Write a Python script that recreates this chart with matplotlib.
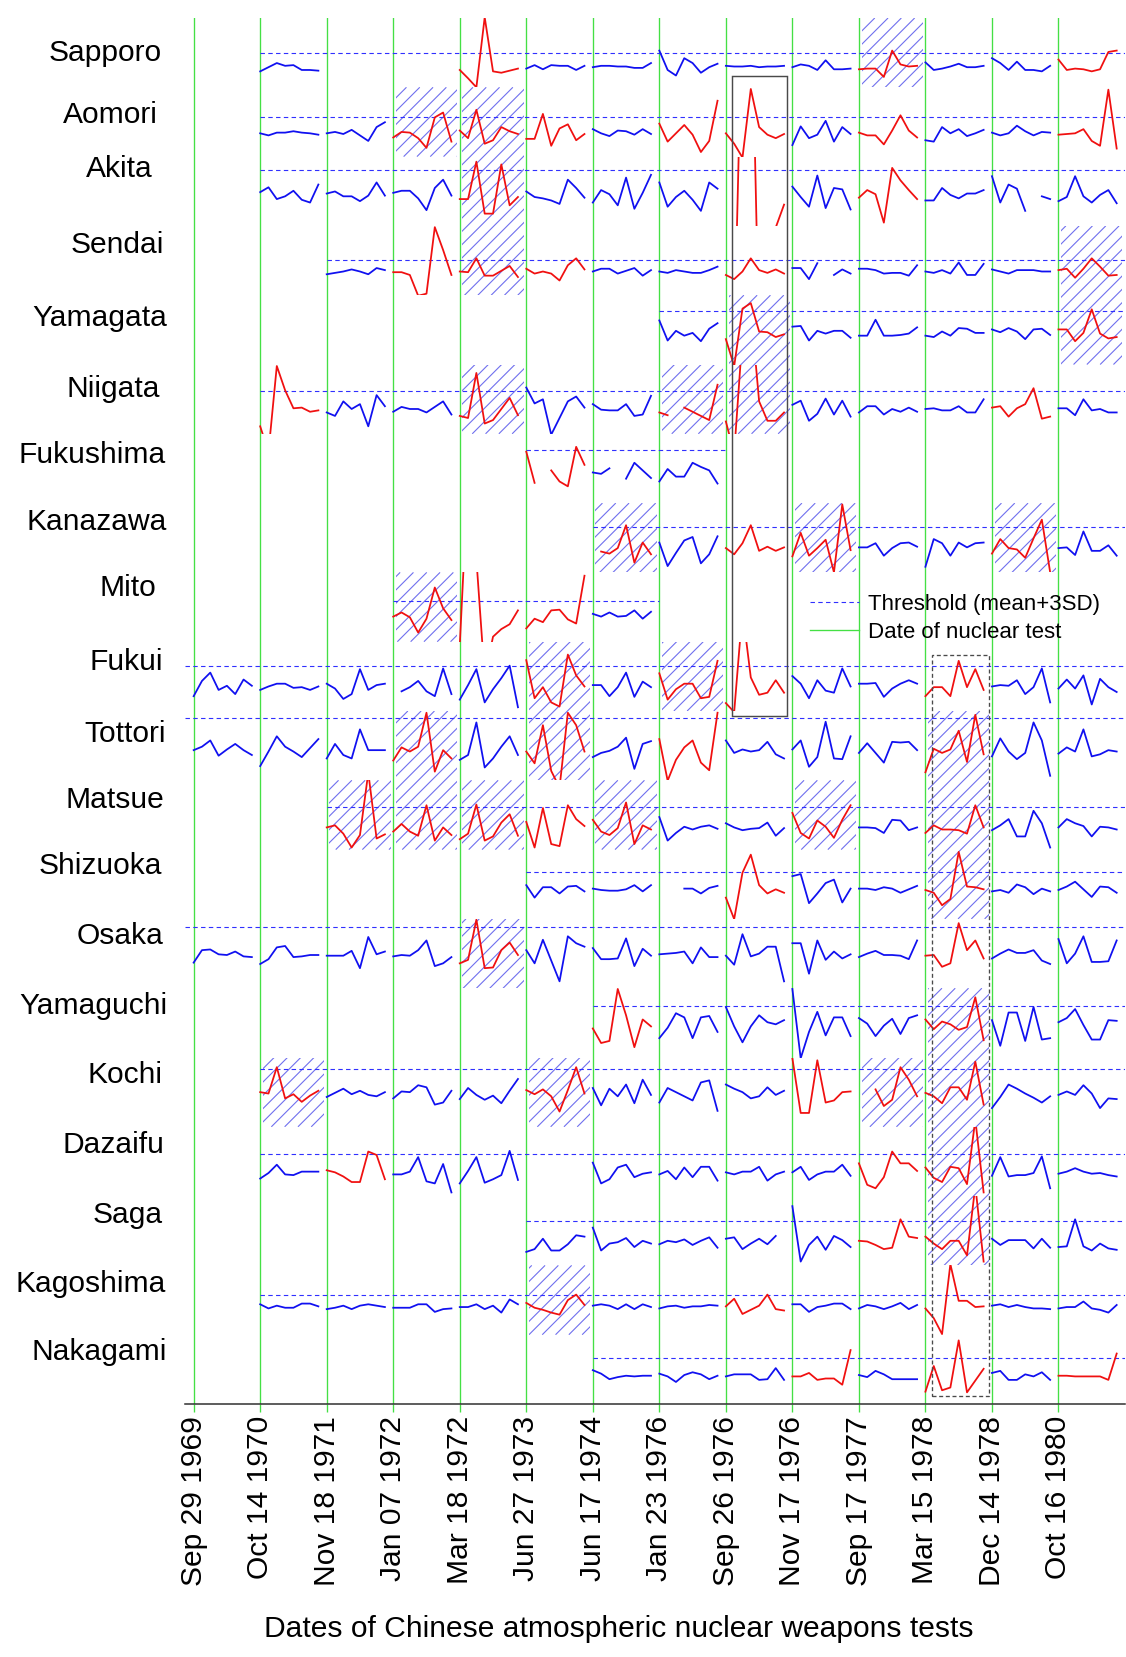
import numpy as np
import matplotlib
matplotlib.use("Agg")
import matplotlib.pyplot as plt
from matplotlib.patches import Rectangle
from matplotlib.lines import Line2D
from matplotlib.collections import LineCollection

plt.rcParams['font.family'] = ['Liberation Sans', 'DejaVu Sans']

N = np.nan

test_dates = ["Sep 29 1969", "Oct 14 1970", "Nov 18 1971", "Jan 07 1972", "Mar 18 1972",
              "Jun 27 1973", "Jun 17 1974", "Jan 23 1976", "Sep 26 1976", "Nov 17 1976",
              "Sep 17 1977", "Mar 15 1978", "Dec 14 1978", "Oct 16 1980"]

stations = ["Sapporo", "Aomori", "Akita", "Sendai", "Yamagata", "Niigata", "Fukushima",
            "Kanazawa", "Mito", "Fukui", "Tottori", "Matsue", "Shizuoka", "Osaka",
            "Yamaguchi", "Kochi", "Dazaifu", "Saga", "Kagoshima", "Nakagami"]

# threshold level inside each station's band (band height = 10)
thresholds = [5.0, 5.76, 8.07, 5.12, 7.76, 6.18, 7.62, 6.51, 5.92, 6.54,
              8.95, 6.10, 6.77, 8.79, 7.39, 8.30, 6.03, 6.45, 5.69, 6.68]

# values after each test, relative to the threshold (column -> 8 samples)
sapporo = {
    1: [-2.7, -2.1, -1.5, -1.9, -1.8, -2.5, -2.5, -2.6],
    4: [-2.5, -3.7, -5.0, 5.1, -2.7, -2.9, -2.6, -2.3],
    5: [-2.3, -1.8, -2.4, -1.8, -1.9, -1.9, -2.5, -1.9],
    6: [-2.1, -1.9, -1.9, -2.0, -2.0, -2.2, -2.2, -1.5],
    7: [0.3, -2.5, -3.3, -0.8, -1.5, -2.9, -2.1, -1.6],
    8: [-1.9, -2.0, -2.0, -1.9, -2.1, -2.0, -2.0, -1.9],
    9: [-2.1, -1.7, -1.9, -2.5, -1.1, -2.4, -2.4, -2.3],
    10: [-2.4, -2.3, -2.3, -3.5, 0.3, -1.7, -2.0, -1.9],
    11: [-1.4, -2.5, -2.3, -2.0, -1.6, -2.1, -2.1, -1.9],
    12: [-0.8, -1.5, -2.5, -1.3, -2.5, -2.5, -2.7, -1.9],
    13: [-1.0, -2.5, -2.3, -2.4, -2.7, -2.4, 0.1, 0.3],
}
aomori = {
    1: [-2.4, -2.7, -2.3, -2.3, -2.1, -2.3, -2.4, -2.6],
    2: [-2.4, -2.2, -2.5, -1.9, -2.7, -3.5, -1.5, -0.8],
    3: [-3.0, -2.2, -2.3, -3.1, -4.5, -0.1, 0.6, -3.6],
    4: [-2.0, -3.1, 1.0, -3.9, -3.4, -1.5, -2.1, -2.5],
    5: [-3.2, -3.2, 0.4, -4.2, -1.7, -1.1, -3.4, -2.5],
    6: [-1.8, -2.4, -2.8, -2.0, -2.1, -2.6, -1.8, -2.5],
    7: [-1.0, -3.6, -2.4, -1.2, -2.6, -5.1, -3.5, 2.3],
    8: [-2.4, -3.9, -5.9, 4.0, -1.5, -2.6, -3.1, -2.5],
    9: [-4.1, -1.4, -3.1, -2.6, -0.6, -3.6, -1.5, -2.5],
    10: [-2.3, -2.7, -2.7, -4.0, -2.0, 0.2, -2.0, -3.0],
    11: [-3.4, -3.6, -1.5, -2.4, -1.8, -2.8, -2.4, -1.9],
    12: [-2.3, -2.7, -2.4, -1.3, -2.1, -2.7, -2.2, -2.3],
    13: [-2.6, -2.5, -2.4, -1.8, -3.5, -4.2, 3.9, -4.6],
}
akita = {
    1: [-3.2, -2.5, -4.2, -3.8, -3.0, -4.3, -4.7, -2.1],
    2: [-3.4, -3.1, -3.8, -3.8, -4.5, -3.7, -1.8, -3.7],
    3: [-3.3, -3.0, -3.0, -4.1, -5.8, -2.6, -1.4, -3.7],
    4: [-4.2, -4.2, 1.2, -6.3, -6.3, 0.8, -5.1, -3.9],
    5: [-3.1, -3.9, -4.1, -4.4, -4.9, -1.4, -2.6, -4.0],
    6: [-4.7, -2.9, -3.5, -5.1, -1.1, -5.6, -3.3, -0.7],
    7: [-1.8, -5.3, -3.9, -3.0, -4.3, -5.9, -1.8, -2.7],
    8: [-12.0, -25.0, 25.0, 30.0, -25.0, -20.0, -8.3, -5.0],
    9: [-2.4, -3.9, -5.3, -0.8, -5.5, -2.6, -2.8, -5.7],
    10: [-4.0, -2.9, -3.5, -7.6, 0.3, -1.5, -2.9, -4.2],
    11: [-4.4, -4.4, -2.6, -3.6, -4.1, -3.4, -3.4, -2.9],
    12: [-0.9, -4.7, -2.1, -2.7, -5.9, N, -3.8, -4.2],
    13: [-4.5, -3.9, -0.9, -3.8, -4.7, -3.6, -2.9, -4.8],
}
sendai = {
    2: [-2.1, -1.9, -1.7, -1.4, -1.7, -2.1, -1.2, -1.5],
    3: [-1.8, -1.8, -2.2, -5.2, -4.9, 4.7, 1.4, -2.2],
    4: [-1.7, -1.8, 0.2, -2.3, -2.3, -1.6, -0.9, -2.5],
    5: [-1.3, -2.0, -1.7, -2.0, -3.0, -0.8, 0.2, -1.4],
    6: [-1.7, -1.3, -1.3, -2.0, -1.6, -1.2, -2.3, -1.5],
    7: [-1.7, -1.9, -1.5, -1.7, -1.9, -1.9, -1.5, -1.0],
    8: [-2.2, -2.8, -1.7, 0.2, -1.5, -1.9, -1.4, -2.0],
    9: [-1.2, -1.2, -2.8, -0.5, N, -2.2, -1.4, -2.0],
    10: [-1.3, -1.3, -1.5, -2.0, -1.9, -1.9, -2.3, -0.8],
    11: [-1.7, -1.9, -1.5, -2.0, -0.4, -2.2, -2.2, -0.6],
    12: [-1.4, -1.7, -2.0, -1.5, -1.5, -1.5, -1.7, -1.7],
    13: [-1.5, -1.3, -2.6, -1.3, 0.2, -1.0, -2.3, -2.2],
}
yamagata = {
    7: [-1.4, -4.3, -2.9, -3.6, -3.2, -4.4, -2.6, -1.8],
    8: [-4.1, -8.0, 0.3, 1.1, -3.0, -3.1, -3.8, -3.4],
    9: [-2.3, -2.2, -4.3, -2.9, -3.3, -2.9, -2.9, -3.9],
    10: [-3.6, -3.6, -1.3, -3.6, -3.6, -3.5, -3.3, -2.4],
    11: [-3.6, -3.8, -3.0, -3.6, -2.5, -2.6, -3.2, -3.2],
    12: [-2.7, -3.1, -2.5, -3.0, -4.1, -2.7, -2.6, -3.5],
    13: [-2.7, -2.7, -4.4, -3.2, 0.2, -3.3, -4.0, -3.8],
}
niigata = {
    1: [-5.1, -8.8, 3.6, 0.1, -2.5, -2.4, -3.0, -2.8],
    2: [-3.1, -3.6, -1.5, -2.6, -1.9, -5.1, -0.6, -2.2],
    3: [-3.0, -2.3, -2.6, -2.6, -3.1, -2.3, -1.5, -3.4],
    4: [-3.6, -3.9, 2.6, -4.7, -4.2, -2.6, -1.0, -3.5],
    5: [0.5, -1.8, -1.2, -6.3, -3.9, -1.5, -0.8, -2.4],
    6: [-1.9, -2.7, -2.8, -2.8, -1.9, -3.6, -3.4, -0.7],
    7: [-3.1, -3.5, N, -2.4, -3.0, -3.6, -4.2, 0.9],
    8: [-4.4, -9.0, 8.0, 12.0, -1.5, -4.3, -4.3, -3.1],
    9: [-2.0, -1.4, -4.3, -3.3, -1.1, -3.4, -1.4, -3.7],
    10: [-3.1, -2.2, -2.2, -3.4, -2.6, -3.0, -2.4, -3.0],
    11: [-2.6, -2.5, -2.8, -2.8, -2.2, -3.1, -3.1, -1.2],
    12: [-2.4, -2.2, -3.7, -2.5, -1.9, 0.4, -4.0, -3.7],
    13: [-2.5, -2.5, -3.5, -1.2, -2.8, -2.6, -3.1, -3.1],
}
fukushima = {
    5: [-0.2, -4.7, N, -2.9, -4.5, -5.2, 0.5, -2.1],
    6: [-3.2, -3.4, -2.6, N, -4.1, -1.8, -2.9, -4.0],
    7: [-4.5, -2.7, -3.8, -3.8, -1.8, -2.4, -2.9, -4.8],
}
kanazawa = {
    6: [N, -3.5, -3.8, -3.0, 0.3, -5.1, -2.2, -3.9],
    7: [-2.2, -5.6, -3.7, -1.9, -1.4, -5.2, -3.9, -1.3],
    8: [-3.0, -3.9, -2.3, 0.3, -3.4, -2.8, -3.4, -2.9],
    9: [-4.2, -0.8, -4.1, -3.0, -1.8, -6.5, 3.3, -3.3],
    10: [-2.9, -2.9, -2.3, -4.1, -3.0, -2.3, -2.2, -2.8],
    11: [-5.7, -1.7, -2.3, -4.1, -2.2, -2.9, -2.3, -2.2],
    12: [-3.8, -1.7, -3.0, -3.2, -4.4, -1.6, 1.1, -6.5],
    13: [-3.0, -2.9, -4.0, -0.6, -3.4, -3.4, -2.6, -4.1],
}
mito = {
    3: [-2.3, -1.7, -2.4, -4.6, -2.6, 1.9, -1.1, -2.8],
    4: [-6.5, 18.0, 6.0, -11.0, -5.2, -4.1, -3.4, -1.4],
    5: [-4.0, -2.6, -3.1, -1.4, -1.3, -2.7, -3.3, 3.6],
    6: [-1.9, -2.3, -1.7, -2.3, -2.2, -1.4, -2.6, -1.6],
}
fukui = {
    0: [-4.4, -2.2, -1.0, -3.5, -2.9, -4.1, -2.0, -2.9],
    1: [-3.5, -3.0, -2.6, -2.6, -3.2, -3.1, -3.5, -3.0],
    2: [-2.6, -3.3, -4.8, -4.1, -0.5, -3.5, -2.8, -2.6],
    3: [N, -3.7, -3.1, -2.2, -3.7, -4.4, -0.4, -4.1],
    4: [-4.9, -2.8, -0.5, -5.3, -3.4, -1.8, 0.0, -6.0],
    5: [0.8, -4.7, -3.1, -5.3, -5.9, 1.6, -1.4, -3.0],
    6: [-2.8, -2.8, -4.4, -3.1, -1.0, -4.5, -2.3, -3.1],
    7: [-1.1, -4.9, -3.4, -2.6, -2.6, -4.7, -4.5, 0.7],
    8: [-5.4, -6.7, 8.0, -1.7, -4.2, -3.9, -2.1, -3.9],
    9: [-1.5, -2.6, -4.7, -2.1, -3.6, -3.9, -0.4, -3.0],
    10: [-2.6, -2.6, -2.5, -4.5, -3.3, -2.6, -2.1, -2.6],
    11: [-4.4, -3.1, -3.1, -4.4, 0.7, -3.1, -0.5, -3.5],
    12: [-3.0, -2.8, -2.9, -2.1, -4.1, -3.1, -0.4, -5.3],
    13: [-3.3, -2.0, -3.3, -1.4, -5.6, -1.9, -3.1, -3.8],
}
tottori = {
    0: [-4.6, -4.1, -3.2, -5.4, -4.5, -3.7, -4.6, -5.3],
    1: [-6.9, -4.8, -2.6, -4.1, -4.8, -5.6, -4.3, -3.0],
    2: [-5.8, -3.7, -5.3, -5.8, -1.6, -4.6, -4.6, -4.6],
    3: [-6.1, -4.2, -4.8, -4.1, 0.8, -7.7, -4.6, -5.8],
    4: [-6.0, -5.3, -0.6, -7.1, -5.8, -4.1, -2.6, -5.3],
    5: [-4.8, -6.5, -1.0, -7.6, -10.0, 0.8, -1.0, -4.8],
    6: [-5.6, -5.0, -4.7, -4.1, -2.8, -7.3, -3.7, -3.3],
    7: [-3.0, -9.0, -6.0, -4.2, -3.2, -6.4, -7.5, 0.8],
    8: [-3.2, -5.0, -4.5, -4.8, -4.6, -3.4, -5.2, -5.8],
    9: [-4.5, -3.2, -7.0, -5.6, -0.5, -5.8, -5.9, -2.6],
    10: [-5.0, -3.6, -5.0, -6.4, -3.4, -3.5, -3.4, -4.6],
    11: [-7.8, -4.4, -5.0, -4.5, -1.8, -6.3, 0.5, -5.2],
    12: [-5.5, -2.9, -4.8, -5.9, -5.0, -0.6, -3.2, -8.3],
    13: [-5.1, -4.2, -4.8, -1.6, -5.5, -5.2, -4.6, -4.8],
}
matsue = {
    2: [-2.9, -2.6, -3.8, -5.8, -4.0, 5.0, -4.5, -3.9],
    3: [-3.5, -2.4, -3.5, -4.1, 0.3, -4.8, -2.9, -4.0],
    4: [-4.6, -3.8, 0.4, -4.8, -4.2, -2.2, -1.0, -4.1],
    5: [-2.1, -5.8, -0.1, -5.3, -5.6, 0.3, -1.7, -2.7],
    6: [-1.8, -3.5, -4.0, -3.0, 0.7, -5.3, -2.6, -3.2],
    7: [-1.4, -4.8, -3.7, -2.8, -3.2, -2.8, -2.6, -3.1],
    8: [-2.3, -2.9, -3.3, -3.1, -3.0, -2.2, -4.1, -3.0],
    9: [-0.8, -3.7, -4.5, -1.9, -2.8, -4.4, -1.8, 0.3],
    10: [-2.9, -2.9, -3.0, -3.7, -1.8, -1.9, -3.3, -2.9],
    11: [-3.7, -2.6, -3.2, -3.2, -3.3, -3.8, 0.3, -2.9],
    12: [-3.3, -2.6, -1.7, -4.2, -4.2, -0.5, -2.3, -5.8],
    13: [-2.9, -1.7, -2.3, -2.7, -4.2, -2.8, -2.9, -3.2],
}
shizuoka = {
    5: [-1.9, -3.7, -2.2, -2.2, -3.1, -2.1, -2.0, -2.8],
    6: [-2.4, -2.6, -2.7, -2.7, -2.5, -1.9, -2.8, -1.9],
    7: [N, N, N, -2.4, -2.4, -3.1, -2.3, -2.0],
    8: [-3.7, -6.8, -0.1, 2.5, -1.9, -3.1, -2.5, -3.0],
    9: [-0.6, -0.3, -4.5, -3.1, -1.6, -1.1, -4.4, -2.4],
    10: [-2.4, -2.4, -2.6, -2.2, -2.4, -3.0, -2.5, -2.0],
    11: [-2.6, -3.0, -4.8, -3.9, 2.9, -2.1, -2.2, -2.5],
    12: [-2.8, -2.6, -3.0, -1.8, -2.2, -3.2, -2.4, -2.8],
    13: [-2.6, -2.1, -1.4, -2.5, -3.6, -2.1, -2.2, -3.0],
}
osaka = {
    0: [-5.1, -3.3, -3.2, -3.9, -4.0, -3.5, -4.2, -4.3],
    1: [-5.3, -4.6, -2.9, -2.7, -4.3, -4.2, -4.0, -4.0],
    2: [-4.1, -4.1, -4.1, -3.4, -5.9, -1.4, -3.9, -3.5],
    3: [-4.2, -4.0, -4.1, -3.3, -1.9, -5.6, -5.2, -4.3],
    4: [-5.2, -4.7, 1.1, -5.9, -5.8, -3.3, -2.2, -4.0],
    5: [-3.3, -5.2, -1.8, -4.8, -7.8, -1.3, -2.3, -2.8],
    6: [-3.0, -4.6, -4.6, -4.5, -1.6, -5.6, -3.1, -4.1],
    7: [-3.9, -3.8, -3.7, -3.5, -5.2, -2.9, -4.3, -4.3],
    8: [-4.1, -5.4, -1.0, -4.2, -3.8, -2.8, -2.8, -7.8],
    9: [-2.3, -2.3, -6.7, -1.9, -4.7, -3.5, -4.5, -3.9],
    10: [-4.3, -3.8, -3.4, -4.0, -4.0, -4.1, -4.6, -1.9],
    11: [-4.1, -4.0, -5.7, -5.2, 0.6, -3.3, -1.9, -4.5],
    12: [-4.5, -3.8, -3.2, -3.7, -3.7, -3.3, -4.8, -5.3],
    13: [-1.7, -5.2, -3.8, -1.3, -5.0, -5.0, -4.9, -1.9],
}
yamaguchi = {
    6: [-3.2, -5.3, -5.0, 2.5, -1.3, -5.9, -1.9, -2.9],
    7: [-4.6, -3.1, -1.0, -1.6, -4.6, -1.6, -1.4, -3.7],
    8: [-0.1, -2.9, -5.2, -2.9, -1.3, -2.3, -2.6, -2.0],
    9: [2.5, -7.5, -3.7, -0.8, -4.2, -1.6, -1.6, -4.3],
    10: [-1.7, -2.5, -4.3, -2.8, -1.8, -4.0, -1.7, -1.3],
    11: [-1.9, -3.3, -2.2, -2.6, -3.4, -3.0, 1.3, -4.9],
    12: [-2.0, -5.7, -0.9, -0.9, -5.0, -0.1, -4.8, -4.6],
    13: [-2.3, -1.7, -0.4, -2.7, -4.8, -4.8, -2.0, -2.1],
}
kochi = {
    1: [-3.3, -3.5, 0.3, -4.2, -3.6, -4.7, -3.8, -3.1],
    2: [-4.0, -3.4, -2.8, -3.6, -3.1, -3.7, -3.9, -3.3],
    3: [-4.2, -3.2, -3.3, -2.3, -2.6, -5.1, -4.8, -3.1],
    4: [-4.3, -2.7, -3.7, -4.4, -3.8, -4.9, -3.1, -1.4],
    5: [-3.0, -3.6, -2.9, -3.9, -6.1, -3.0, 0.3, -3.5],
    6: [-2.7, -5.2, -2.8, -3.9, -2.2, -4.9, -1.5, -3.7],
    7: [-4.8, -2.7, -3.3, -3.9, -4.5, -1.9, -1.6, -6.0],
    8: [-2.2, -2.8, -3.3, -4.2, -3.9, -2.6, -3.7, -3.1],
    9: [1.6, -6.3, -6.3, 1.3, -4.8, -4.5, -3.3, -3.2],
    10: [N, N, -2.9, -5.3, -4.4, 0.3, -1.5, -3.9],
    11: [-3.4, -3.9, -4.9, -2.6, -2.6, -4.4, 1.1, -5.1],
    12: [-5.6, -4.0, -2.2, -2.8, -3.5, -4.1, -4.8, -3.9],
    13: [-3.7, -3.2, -3.7, -2.3, -3.5, -5.6, -4.2, -4.3],
}
dazaifu = {
    1: [-3.5, -2.7, -1.5, -2.9, -3.0, -2.5, -2.5, -2.5],
    2: [-2.3, -2.6, -3.2, -4.0, -4.0, 0.4, -0.1, -3.6],
    3: [-2.9, -2.9, -2.5, -0.4, -3.9, -4.2, -1.4, -5.5],
    4: [-4.2, -2.4, -0.4, -4.1, -3.6, -3.0, 0.5, -3.7],
    6: [-1.2, -4.2, -3.6, -1.9, -1.5, -3.3, -2.8, -2.6],
    7: [-2.9, -2.4, -3.6, -1.9, -3.3, -1.8, -1.8, -3.8],
    8: [-2.6, -2.9, -2.5, -2.5, -1.8, -3.8, -2.9, -2.5],
    9: [-2.6, -1.8, -3.7, -2.9, -2.5, -2.5, -1.5, -3.1],
    10: [-1.3, -4.4, -4.9, -3.3, 0.4, -1.3, -1.3, -2.4],
    11: [-1.9, -3.4, -4.0, -1.8, -2.0, -4.3, 5.0, -5.5],
    12: [-3.1, -0.4, -3.2, -3.0, -3.0, -2.7, -0.3, -4.9],
    13: [-2.8, -2.5, -2.0, -2.5, -2.8, -2.7, -3.0, -3.2],
}
saga = {
    5: [-4.5, -4.1, -2.6, -4.3, -4.3, -3.4, -2.1, -2.3],
    6: [-1.0, -4.3, -3.3, -3.1, -2.5, -3.8, -2.9, -3.3],
    7: [-3.4, -2.9, -3.1, -2.7, -3.5, -2.9, -2.4, -3.9],
    8: [-2.6, -2.4, -4.1, -3.3, -2.6, -3.4, -2.2, N],
    9: [2.1, -5.9, -3.5, -2.3, -4.2, -2.2, -2.8, -3.8],
    10: [-2.9, -3.0, -3.5, -4.1, -3.9, 0.2, -2.3, -2.5],
    11: [-2.3, -3.3, -4.1, -2.9, -2.9, -5.0, 5.0, -5.9],
    12: [-2.6, -3.5, -2.8, -2.8, -2.8, -4.0, -2.6, -3.9],
    13: [-3.8, -3.7, 0.2, -3.7, -4.3, -3.3, -4.0, -4.2],
}
kagoshima = {
    1: [-1.3, -1.9, -1.5, -1.8, -1.8, -1.2, -1.2, -1.6],
    2: [-2.0, -1.8, -1.5, -2.0, -1.5, -1.3, -1.5, -1.7],
    3: [-1.8, -1.8, -1.8, -1.3, -1.3, -2.4, -2.0, -1.9],
    4: [-1.7, -1.7, -1.3, -2.0, -1.5, -2.5, -0.6, -1.3],
    5: [-1.1, -1.8, -2.1, -2.5, -2.8, -0.7, 0.1, -1.4],
    6: [-1.5, -1.3, -1.5, -2.0, -1.3, -2.0, -1.3, -1.7],
    7: [-1.9, -1.6, -1.5, -1.8, -1.6, -1.6, -1.4, -1.5],
    8: [-1.6, -0.5, -2.7, -2.1, -1.5, 0.1, -2.0, -2.2],
    9: [-1.3, -1.3, -2.4, -1.7, -1.5, -1.2, -1.2, -2.0],
    10: [-1.9, -1.4, -1.6, -2.0, -1.6, -1.1, -2.0, -1.4],
    11: [-1.9, -3.3, -5.6, 4.5, -0.8, -0.8, -1.7, -1.6],
    12: [-1.5, -1.3, -1.7, -1.4, -1.7, -1.9, -1.9, -2.0],
    13: [-1.9, -1.7, -1.7, -0.9, -1.9, -2.1, -2.5, -1.4],
}
nakagami = {
    6: [-1.8, -2.3, -3.1, -2.8, -2.6, -2.7, -2.6, -2.6],
    7: [-2.3, -2.7, -3.5, -2.5, -2.1, -2.4, -3.1, -2.6],
    8: [-2.7, -2.4, -2.4, -2.4, -3.2, -3.1, -1.5, -3.2],
    9: [-2.7, -2.7, -2.2, -3.2, -3.0, -3.0, -3.9, 1.1],
    10: [-2.5, -2.8, -1.9, -2.4, -3.1, -3.1, -3.1, -3.1],
    11: [-4.9, -1.2, -4.7, -4.3, 2.5, -5.0, -3.3, -1.6],
    12: [-2.2, -1.9, -3.2, -3.2, -2.4, -2.7, -2.1, -3.2],
    13: [-2.6, -2.6, -2.7, -2.7, -2.7, -2.7, -3.2, 0.6],
}

station_data = [sapporo, aomori, akita, sendai, yamagata, niigata, fukushima, kanazawa,
                mito, fukui, tottori, matsue, shizuoka, osaka, yamaguchi, kochi,
                dazaifu, saga, kagoshima, nakagami]

# columns drawn in red (elevated after the test)
red_cols = [[4, 10, 13], [3, 4, 5, 7, 8, 10, 13], [4, 8, 10], [3, 4, 5, 8, 13], [8, 13],
            [1, 4, 7, 8, 12], [5], [6, 8, 9, 12], [3, 4, 5], [5, 7, 8, 11],
            [3, 5, 7, 11], [2, 3, 4, 5, 6, 9, 11], [8, 11], [4, 11], [6, 11],
            [1, 5, 9, 10, 11], [2, 10, 11], [10, 11], [5, 8, 11], [9, 11, 13]]

# hatched cells: (column, first station, last station)
hatched = [(10, 0, 0), (3, 1, 1), (4, 1, 3), (13, 3, 4), (8, 4, 5), (4, 5, 5), (7, 5, 5),
           (6, 7, 7), (9, 7, 7), (12, 7, 7), (3, 8, 8), (5, 9, 10), (7, 9, 9),
           (3, 10, 11), (2, 11, 11), (4, 11, 11), (6, 11, 11), (9, 11, 11),
           (11, 10, 12), (4, 13, 13), (11, 14, 17), (1, 15, 15), (5, 15, 15),
           (10, 15, 15), (5, 18, 18)]

# station label placement (pixel centre y, right edge x)
label_y = [53, 115, 169, 245, 318, 389, 455, 522, 588, 662,
           734, 800, 866, 936, 1006, 1075, 1145, 1215, 1284, 1352]
label_right = [162, 158, 153, 164, 167, 160, 166, 167, 156, 163,
               166, 164, 162, 164, 167, 163, 164, 163, 166, 167]

W, H, DPI = 1126, 1657, 80
BLUE, RED, GREEN = '#1010f0', '#f01010', '#44e044'
THR_COLOR = '#3030ff'
HATCH_COLOR = '#7070ee'

fig = plt.figure(figsize=(W / DPI, H / DPI), dpi=DPI)
ax_w, ax_h = 940, 1386
ax = fig.add_axes([185 / W, 1 - 1404 / H, ax_w / W, ax_h / H])
xmin, xmax = -0.13, 14.0
ax.set_xlim(xmin, xmax)
ax.set_ylim(0, 20)

offsets = np.arange(8) * 0.125

for i, (data, thr, reds) in enumerate(zip(station_data, thresholds, red_cols)):
    base = 19 - i
    clip = Rectangle((xmin, base), xmax - xmin, 1, transform=ax.transData)
    cols = sorted(data)
    x0 = xmin if cols[0] == 0 else cols[0]
    x1 = min(cols[-1] + 1, xmax)
    ax.plot([x0, x1], [base + thr / 10] * 2, color=THR_COLOR, lw=1.0,
            ls=(0, (4, 3)), zorder=2)
    for c in cols:
        y = base + (thr + np.array(data[c])) / 10
        line, = ax.plot(c + offsets, y, color=RED if c in reds else BLUE,
                        lw=1.6, zorder=3)
        line.set_clip_path(clip)

# diagonal hatching (45 degrees on screen, ~13 px apart)
px_x = ax_w / (xmax - xmin)
px_y = ax_h / 20
step = 13.3 / px_x
inv_slope = px_y / px_x
for c, s0, s1 in hatched:
    rx0, rx1 = c + 0.04, c + 0.96
    ry0, ry1 = 19 - s1, 20 - s0
    rect = Rectangle((rx0, ry0), rx1 - rx0, ry1 - ry0, transform=ax.transData)
    kmin = int(np.floor((rx0 - ry1 * inv_slope) / step)) - 1
    kmax = int(np.ceil((rx1 - ry0 * inv_slope) / step)) + 1
    segs = [[(k * step + ry0 * inv_slope, ry0), (k * step + ry1 * inv_slope, ry1)]
            for k in range(kmin, kmax + 1)]
    lc = LineCollection(segs, colors=HATCH_COLOR, linewidths=1.0, zorder=1)
    ax.add_collection(lc, autolim=False)
    lc.set_clip_path(rect)

for c in range(len(test_dates)):
    ax.axvline(c, color=GREEN, lw=1.2, zorder=1.5)

ax.add_patch(Rectangle((8.085, 9.93), 0.84, 9.24, fill=False,
                       edgecolor='#4a4a4a', lw=1.3, zorder=4))
ax.add_patch(Rectangle((11.105, 0.115), 0.85, 10.695, fill=False,
                       edgecolor='#4a4a4a', lw=1.2, ls=(0, (3, 2)), zorder=4))

ax.set_xticks(range(len(test_dates)))
ax.set_xticklabels(test_dates, rotation=90, fontsize=27)
ax.tick_params(axis='x', color=GREEN, length=7, width=1.2, pad=4, labelcolor='black')
ax.set_yticks([])
for s in ['left', 'top', 'right']:
    ax.spines[s].set_visible(False)
ax.spines['bottom'].set_color('#333333')
ax.spines['bottom'].set_linewidth(1.4)

for name, yp, xr in zip(stations, label_y, label_right):
    fig.text(xr / W, 1 - yp / H, name, ha='right', va='center', fontsize=27)

fig.text(619 / W, 1 - 1629 / H, "Dates of Chinese atmospheric nuclear weapons tests",
         ha='center', va='center', fontsize=27)

handles = [Line2D([], [], color=THR_COLOR, lw=1.0, ls=(0, (4, 3))),
           Line2D([], [], color=GREEN, lw=1.2)]
ax.legend(handles, ['Threshold (mean+3SD)', 'Date of nuclear test'],
          loc='upper left', bbox_to_anchor=(810 / W, 1 - 594 / H),
          bbox_transform=fig.transFigure, frameon=False, fontsize=20,
          handlelength=2.2, handletextpad=0.4, labelspacing=0.3,
          borderpad=0, borderaxespad=0)

fig.savefig("out.png", dpi=DPI, facecolor='white')
